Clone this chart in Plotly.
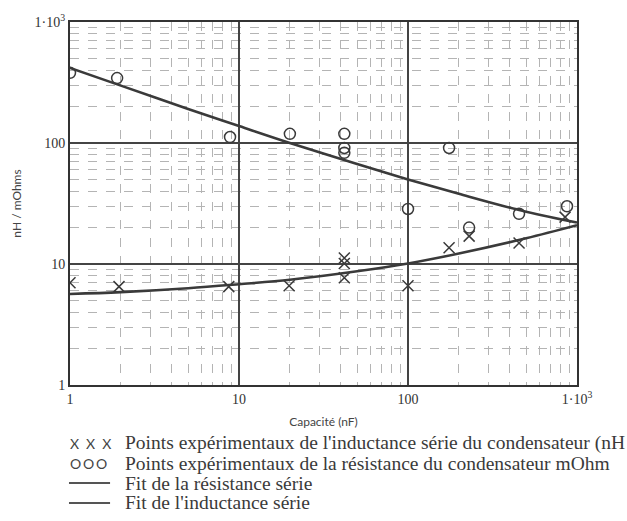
import plotly.graph_objects as go

# Capacitor series inductance / resistance vs capacitance (log-log)
ind_c = [1, 1.95, 8.7, 19.8, 42, 42, 42, 100, 175, 230, 454, 850]
ind_nh = [7.0, 6.5, 6.5, 6.6, 11.2, 10.1, 7.7, 6.6, 13.6, 17.0, 14.9, 24.4]

res_c = [1, 1.9, 8.85, 20, 42, 42, 42, 100, 175, 230, 454, 873]
res_mohm = [380, 344, 112, 119, 119, 91, 83, 28.5, 91, 20, 26, 30]

fit_c = [1, 2, 5, 10, 20, 50, 100, 200, 500, 1000]
fit_res = [417, 298, 191, 138, 100, 67, 50, 38, 27, 22]
fit_ind = [5.65, 5.85, 6.3, 6.8, 7.4, 8.7, 10.1, 12.2, 16.3, 20.9]

tick_vals = [1, 10, 100, 1000]
tick_text = ["1", "10", "100", "1·10<sup>3</sup>"]
minor_vals = [m * d for d in (1, 10, 100) for m in range(2, 10)]

legend_rows = [
    ("X\u2002X\u2002X", "Points expérimentaux de l'inductance série du condensateur (nH"),
    ("O\u2009O\u2009O", "Points expérimentaux de la résistance du condensateur mOhm"),
    (None, "Fit de la résistance série"),
    (None, "Fit de l'inductance série"),
]

ink = "#3a3a3a"
serif = "Liberation Serif"
sans = "Lato"

fig = go.Figure()
fig.add_trace(go.Scatter(x=fit_c, y=fit_res, mode="lines", line=dict(color=ink, width=2.6, shape="spline"),
                         showlegend=False))
fig.add_trace(go.Scatter(x=fit_c, y=fit_ind, mode="lines", line=dict(color=ink, width=2.6, shape="spline"),
                         showlegend=False))
fig.add_trace(go.Scatter(x=ind_c, y=ind_nh, mode="markers",
                         marker=dict(symbol="x-thin-open", size=11, color=ink, line=dict(color=ink, width=1.5)),
                         showlegend=False))
fig.add_trace(go.Scatter(x=res_c, y=res_mohm, mode="markers",
                         marker=dict(symbol="circle-open", size=11, color=ink, line=dict(color=ink, width=1.5)),
                         showlegend=False))

axis_common = dict(
    type="log", range=[0, 3], tickvals=tick_vals, ticktext=tick_text, ticks="",
    showgrid=True, gridcolor="#444444", gridwidth=1.8,
    showline=True, linecolor="#333333", linewidth=2, mirror=True,
    tickfont=dict(family=serif, size=14, color="#333333"),
    minor=dict(tickvals=minor_vals, showgrid=True, gridcolor="#b4b4b4", gridwidth=1, griddash="dash"),
    zeroline=False,
)
fig.update_xaxes(**axis_common,
                 title=dict(text="Capacité (nF)", font=dict(family=sans, size=12, color="#444444"), standoff=12))
fig.update_yaxes(**axis_common,
                 title=dict(text="nH / mOhms", font=dict(family=sans, size=12, color="#444444"), standoff=10))

# Legend drawn below the plot: symbol glyphs / line samples followed by the description
row_y = [-0.16, -0.215, -0.27, -0.325]
for (glyph, label), yy in zip(legend_rows, row_y):
    if glyph:
        fig.add_annotation(x=-0.003, y=yy, xref="paper", yref="paper", text=glyph, showarrow=False,
                           xanchor="left", yanchor="middle", font=dict(family=sans, size=14, color="#444444"))
    else:
        fig.add_shape(type="line", xref="paper", yref="paper", x0=-0.002, x1=0.079, y0=yy, y1=yy,
                      line=dict(color="#555555", width=2))
    fig.add_annotation(x=0.104, y=yy, xref="paper", yref="paper", text=label, showarrow=False,
                       xanchor="left", yanchor="middle", font=dict(family=serif, size=19.5, color="#3a3a3a"))

fig.update_layout(
    width=627, height=521,
    margin=dict(l=70, r=50, t=22, b=136),
    paper_bgcolor="white", plot_bgcolor="white",
    showlegend=False,
)

fig.write_html("out.html")
